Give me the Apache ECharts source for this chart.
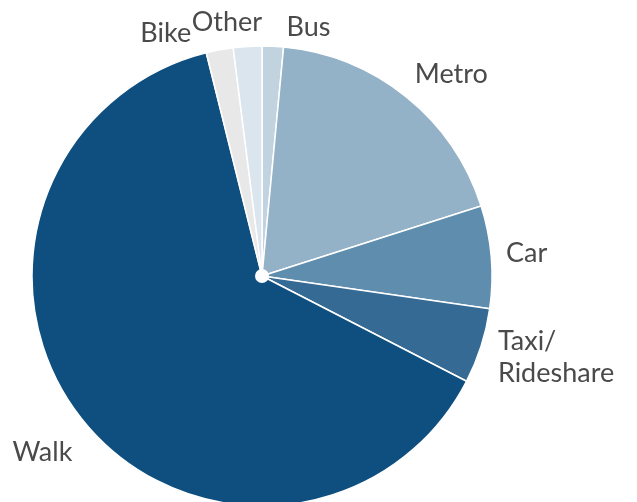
<!DOCTYPE html>
<html>
<head>
  <meta charset="utf-8">
  <title>Mode share pie</title>
</head>
<body style="margin: 0; background: #fff">
  <div id="chart_div" style="width: 637px; height: 502px;"></div>
  <script type="text/javascript" src="https://cdn.jsdelivr.net/npm/echarts@6/dist/echarts.min.js"></script>
  <script type="text/javascript">
    // clockwise from 12 o'clock
    var modes = ['Bus', 'Metro', 'Car', 'Taxi/\nRideshare', 'Walk', 'Bike', 'Other'];
    var shares = [1.5, 18.6, 7.2, 5.3, 63.6, 1.9, 2.0];
    var colors = ['#c2d3e0', '#93b1c7', '#5f8dae', '#346a94', '#0e4f7f', '#e8e8e8', '#dae5ee'];
    // label tweaks: angle (deg) and distance (px) so the crowded labels at the top don't collide
    var labelNudgeAngle = [7.9, 4.4, -0.2, -2.2, -0.4, -11, -4.3];
    var labelNudgeDist = [-8, -2, 0, -1.7, 6.4, -3.8, -5.6];

    var CX = 262, CY = 276, R = 230, GAP = 14;
    var total = shares.reduce(function (a, b) { return a + b; }, 0);

    var myChart = echarts.init(document.getElementById('chart_div'), null, { renderer: 'canvas' });

    var pieData = modes.map(function (m, i) {
      return { name: m, value: shares[i], itemStyle: { color: colors[i] } };
    });

    var option = {
      backgroundColor: '#fff',
      animation: false,
      series: [
        {
          type: 'pie',
          center: [CX, CY],
          radius: [0, R],
          startAngle: 90,
          clockwise: true,
          avoidLabelOverlap: false,
          itemStyle: { borderColor: '#fff', borderWidth: 1.5 },
          label: {
            show: true,
            position: 'outside',
            color: '#4a4a4a',
            fontFamily: 'Lato',
            fontSize: 27,
            lineHeight: 32,
            formatter: '{b}'
          },
          labelLine: { show: false },
          emphasis: { disabled: true },
          labelLayout: function (p) {
            var i = p.dataIndex;
            var before = 0;
            for (var k = 0; k < i; k++) before += shares[k];
            var mid = (before + shares[i] / 2) / total * 360 + labelNudgeAngle[i];
            var a = mid * Math.PI / 180;
            var ux = Math.sin(a), uy = -Math.cos(a);
            var hw = p.labelRect.width / 2, hh = p.labelRect.height / 2;
            var d = R + GAP + Math.abs(ux) * hw + Math.abs(uy) * hh * 0.8 + labelNudgeDist[i];
            return {
              x: CX + ux * d - hw,
              y: CY + uy * d,
              align: 'left',
              verticalAlign: 'middle'
            };
          },
          data: pieData
        },
        {
          // white dot in the middle
          type: 'pie',
          center: [CX, CY],
          radius: [0, 7],
          silent: true,
          label: { show: false },
          labelLine: { show: false },
          itemStyle: { color: '#fff' },
          data: [1]
        }
      ]
    };

    myChart.setOption(option);
    window.addEventListener('resize', myChart.resize);
  </script>
</body>
</html>
